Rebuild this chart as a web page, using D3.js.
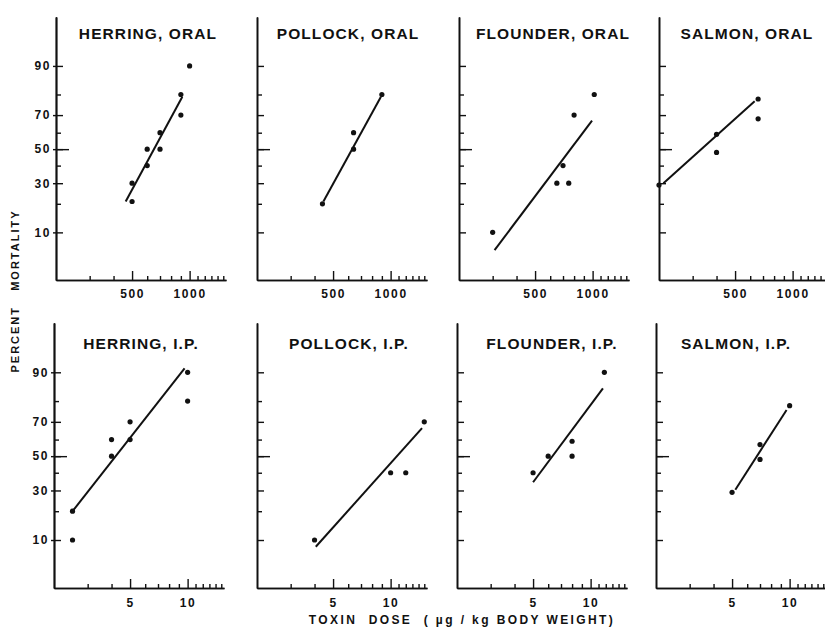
<!DOCTYPE html>
<html>
<head>
<meta charset="utf-8">
<script src="https://cdn.jsdelivr.net/npm/d3@7"></script>
<style>
body { margin: 0; background: #fff; }
svg { display: block; font-family: "Liberation Sans", Arial, sans-serif; font-weight: bold; }
</style>
</head>
<body>
<svg id="chart" width="825" height="629"></svg>
<script>
// panel names
const speciesNames = ['HERRING', 'POLLOCK', 'FLOUNDER', 'SALMON'];
const routeNames = ['ORAL', 'I.P.'];

// x ticks (ug/kg), oral row and i.p. row
const oralDomain = [200, 1550];
const oralMajorTicks = [500, 1000];
const oralMinorTicks = [300, 400, 600, 700, 800, 900, 1100, 1200, 1300, 1400, 1500];
const ipDomain = [2, 15.5];
const ipMajorTicks = [5, 10];
const ipMinorTicks = [3, 4, 6, 7, 8, 9, 11, 12, 13, 14, 15];

// y ticks (percent mortality, probit spaced)
const yLabelTicks = [10, 30, 50, 70, 90];
const yMinorTicks = [20, 40, 60, 80];
const yLongTicks = [50];

// observed points [dose, % mortality]
const herringOral = [[500, 30], [500, 21], [600, 40], [600, 50], [700, 60], [700, 50], [900, 70], [900, 80], [1000, 90]];
const pollockOral = [[440, 20], [640, 60], [640, 50], [900, 80]];
const flounderOral = [[300, 10], [650, 30], [750, 30], [700, 40], [800, 70], [1020, 80]];
const salmonOral = [[200, 29], [400, 59], [400, 48], [660, 78], [660, 68]];
const herringIP = [[2.5, 20], [2.5, 10], [4, 50], [4, 60], [5, 60], [5, 70], [10, 90], [10, 80]];
const pollockIP = [[4, 10], [10, 40], [12, 40], [15, 70]];
const flounderIP = [[5, 40], [6, 50], [8, 59], [8, 50], [11.8, 90]];
const salmonIP = [[5, 29], [7, 57], [7, 48], [10, 78]];

// fitted probit lines, end points [dose, % mortality]
const herringOralFit = [[463, 21], [916, 79]];
const pollockOralFit = [[445, 21], [890, 79]];
const flounderOralFit = [[307, 6], [993, 67]];
const salmonOralFit = [[211, 30], [633, 77]];
const herringIPFit = [[2.5, 20], [9.64, 91]];
const pollockIPFit = [[4.06, 8.3], [14.6, 66.6]];
const flounderIPFit = [[5, 34.5], [11.6, 85]];
const salmonIPFit = [[5.2, 30.4], [9.64, 76]];

const pointSets = [
	[herringOral, pollockOral, flounderOral, salmonOral],
	[herringIP, pollockIP, flounderIP, salmonIP]
];
const fitSets = [
	[herringOralFit, pollockOralFit, flounderOralFit, salmonOralFit],
	[herringIPFit, pollockIPFit, flounderIPFit, salmonIPFit]
];

// layout
const plotWidth = 170;
const zDomain = [-2.015, 2.035];
const rowLayout = [
	{ top: 17, bottom: 280, titleY: 39, cols: [56, 257, 459, 659], titleDx: [92, 91, 94, 88],
	  domain: oralDomain, major: oralMajorTicks, minor: oralMinorTicks },
	{ top: 323, bottom: 588, titleY: 349, cols: [54, 257, 457, 656], titleDx: [87, 92, 95, 80],
	  domain: ipDomain, major: ipMajorTicks, minor: ipMinorTicks }
];

// inverse normal cdf (Acklam)
function probit(p) {
	const a = [-39.69683028665376, 220.9460984245205, -275.9285104469687, 138.3577518672690, -30.66479806614716, 2.506628277459239];
	const b = [-54.47609879822406, 161.5858368580409, -155.6989798598866, 66.80131188771972, -13.28068155288572];
	const c = [-0.007784894002430293, -0.3223964580411365, -2.400758277161838, -2.549732539343734, 4.374664141464968, 2.938163982698783];
	const d = [0.007784695709041462, 0.3224671290700398, 2.445134137142996, 3.754408661907416];
	var q, r;
	if (p < 0.02425) {
		q = Math.sqrt(-2 * Math.log(p));
		return (((((c[0]*q+c[1])*q+c[2])*q+c[3])*q+c[4])*q+c[5]) / ((((d[0]*q+d[1])*q+d[2])*q+d[3])*q+1);
	}
	if (p > 1 - 0.02425) {
		q = Math.sqrt(-2 * Math.log(1 - p));
		return -(((((c[0]*q+c[1])*q+c[2])*q+c[3])*q+c[4])*q+c[5]) / ((((d[0]*q+d[1])*q+d[2])*q+d[3])*q+1);
	}
	q = p - 0.5; r = q * q;
	return (((((a[0]*r+a[1])*r+a[2])*r+a[3])*r+a[4])*r+a[5])*q / (((((b[0]*r+b[1])*r+b[2])*r+b[3])*r+b[4])*r+1);
}
function zOf(pct) { return probit(pct / 100); }

const svg = d3.select('#chart');

function styleAxis(sel, fontSize, spacing) {
	sel.selectAll('path, line').attr('stroke', '#111').attr('stroke-width', 1.4);
	sel.selectAll('text')
		.attr('fill', '#111')
		.style('font-size', fontSize + 'px')
		.style('letter-spacing', spacing + 'px');
}

rowLayout.forEach(function(row, r) {
	row.cols.forEach(function(colX, c) {
		var g = svg.append('g').attr('transform', 'translate(' + [colX, 0] + ')');
		var x = d3.scaleLog().domain(row.domain).range([0, plotWidth]);
		var yz = d3.scaleLinear().domain(zDomain).range([row.bottom, row.top]);
		var y = function(pct) { return yz(zOf(pct)); };

		// x axis
		var xg = g.append('g').attr('transform', 'translate(0,' + row.bottom + ')');
		xg.append('g').call(d3.axisBottom(x).tickValues(row.minor).tickSize(-4).tickSizeOuter(0).tickFormat(''));
		xg.append('g').call(d3.axisBottom(x).tickValues(row.major).tickSize(-9).tickSizeOuter(0)
			.tickPadding(r == 0 ? 9 : 10.5).tickFormat(d3.format('d')));
		styleAxis(xg, 12, 1.6);

		// y axis
		var yg = g.append('g');
		yg.append('g').call(d3.axisLeft(yz).tickValues(yMinorTicks.map(zOf)).tickSize(-5).tickSizeOuter(0).tickFormat(''));
		yg.append('g').call(d3.axisLeft(yz).tickValues(yLabelTicks.map(zOf)).tickSize(-7).tickSizeOuter(0).tickFormat(''));
		yg.append('g').call(d3.axisLeft(yz).tickValues(yLongTicks.map(zOf)).tickSize(-13).tickSizeOuter(0).tickFormat(''));
		if (c == 0)
			yg.append('g').call(d3.axisLeft(yz).tickValues(yLabelTicks.map(zOf)).tickSize(3).tickSizeOuter(0)
				.tickPadding(2).tickFormat(function(d, i) { return yLabelTicks[i]; }));
		styleAxis(yg, 12, 1.6);

		// title
		g.append('text')
			.attr('x', row.titleDx[c])
			.attr('y', row.titleY)
			.attr('text-anchor', 'middle')
			.style('font-size', '15.5px')
			.style('letter-spacing', '1.1px')
			.attr('fill', '#111')
			.text(speciesNames[c] + ', ' + routeNames[r]);

		// fitted line
		g.append('path')
			.datum(fitSets[r][c])
			.attr('fill', 'none')
			.attr('stroke', '#111')
			.attr('stroke-width', 2)
			.attr('d', d3.line().x(function(d) { return x(d[0]); }).y(function(d) { return y(d[1]); }));

		// points
		g.selectAll('.pt')
			.data(pointSets[r][c])
			.enter().append('circle')
			.attr('class', 'pt')
			.attr('cx', function(d) { return x(d[0]); })
			.attr('cy', function(d) { return y(d[1]); })
			.attr('r', 2.6)
			.attr('fill', '#111');
	});
});

// axis titles
svg.append('text')
	.attr('transform', 'translate(19,291) rotate(-90)')
	.attr('text-anchor', 'middle')
	.style('font-size', '11px')
	.style('letter-spacing', '2px')
	.style('white-space', 'pre')
	.attr('fill', '#111')
	.text('PERCENT   MORTALITY');

svg.append('text')
	.attr('x', 462)
	.attr('y', 624)
	.attr('text-anchor', 'middle')
	.style('font-size', '12px')
	.style('letter-spacing', '2.4px')
	.style('white-space', 'pre')
	.attr('fill', '#111')
	.text('TOXIN  DOSE  ( \u00b5g / kg BODY WEIGHT)');
</script>
</body>
</html>
